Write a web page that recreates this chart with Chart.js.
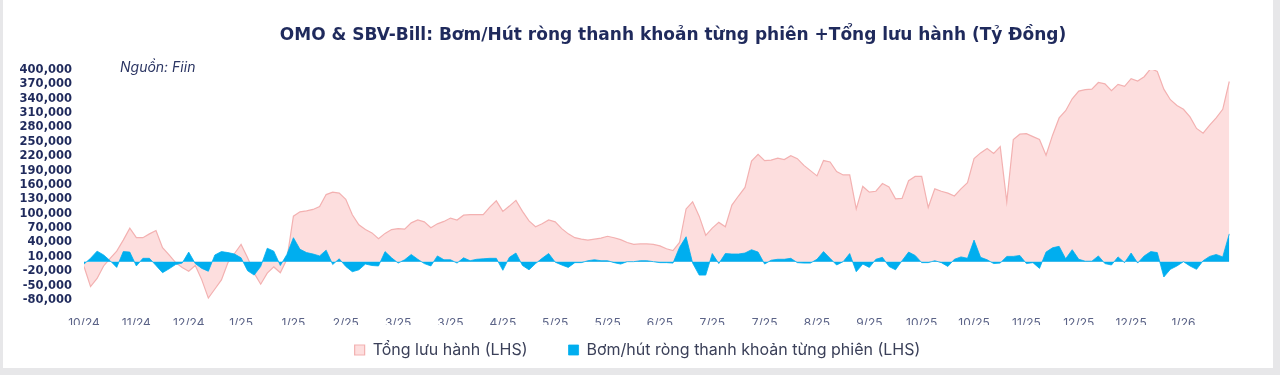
<!DOCTYPE html>
<html lang="vi">
<head>
<meta charset="utf-8">
<title>OMO &amp; SBV-Bill</title>
<script src="https://cdn.jsdelivr.net/npm/chart.js@4.4.1/dist/chart.umd.min.js"></script>
<style>
  html, body { margin: 0; padding: 0; background: #e7e7e9; }
  #card { position: absolute; left: 3px; top: 0; width: 1270px; height: 368px; background: #fff; }
</style>
</head>
<body>
<div id="card"><canvas id="omoChart"></canvas></div>
<script>
// x axis: one label every 8 sessions
const tickLabels = ['10/24', '11/24', '12/24', '1/25', '1/25', '2/25', '3/25', '3/25', '4/25', '5/25', '5/25',
    '6/25', '7/25', '7/25', '8/25', '9/25', '10/25', '10/25', '11/25', '12/25', '12/25', '1/26'];

// Tổng lưu hành (tỷ đồng)
const outstanding = [
    -10000, -52000, -35000, -9000, 7000, 22000, 45000, 70000, 50000, 50000,
    58000, 65000, 29000, 14000, -2000, -12000, -20000, -8000, -38000, -76000,
    -57000, -38000, -2000, 17000, 36000, 8000, -24000, -47000, -24000, -11000,
    -23000, 5000, 95000, 104000, 106000, 109000, 115000, 140000, 145000, 143000,
    130000, 98000, 77000, 67000, 60000, 48000, 59000, 67000, 69000, 68000,
    81000, 87000, 83000, 71000, 79000, 84000, 91000, 87000, 97000, 98000,
    98000, 98000, 114000, 127000, 105000, 116000, 128000, 105000, 85000, 73000,
    79000, 87000, 83000, 69000, 58000, 50000, 47000, 45000, 47000, 49000,
    53000, 50000, 46000, 40000, 36000, 37000, 37000, 36000, 33000, 27000,
    23000, 40000, 110000, 125000, 95000, 55000, 70000, 82000, 73000, 118000,
    137000, 155000, 210000, 224000, 211000, 212000, 216000, 213000, 221000, 215000,
    201000, 190000, 179000, 211000, 208000, 188000, 181000, 181000, 110000, 157000,
    145000, 147000, 163000, 156000, 131000, 132000, 169000, 178000, 178000, 113000,
    152000, 147000, 143000, 137000, 152000, 165000, 215000, 227000, 236000, 226000,
    240000, 125000, 255000, 266000, 267000, 261000, 255000, 222000, 264000, 300000,
    315000, 340000, 356000, 359000, 360000, 374000, 371000, 357000, 370000, 366000,
    382000, 377000, 386000, 403000, 397000, 360000, 338000, 326000, 318000, 302000,
    278000, 268000, 285000, 300000, 318000, 376000
];

// Bơm/hút ròng thanh khoản từng phiên (tỷ đồng)
const netInjection = [
    -5000, 7000, 22000, 14000, 2000, -12000, 21000, 20000, -9000, 7000,
    7000, -8000, -23000, -15000, -6000, -3000, 20000, -4000, -14000, -20000,
    14000, 21000, 19000, 16000, 8000, -19000, -28000, -10000, 28000, 22000,
    -8000, 15000, 50000, 26000, 19000, 16000, 12000, 24000, -6000, 6000,
    -10000, -21000, -17000, -5000, -8000, -9000, 21000, 8000, -3000, 4000,
    15000, 5000, -4000, -9000, 12000, 4000, 4000, -3000, 8000, 2000,
    5000, 6000, 7000, 7000, -18000, 9000, 18000, -8000, -17000, -4000,
    7000, 17000, -1000, -7000, -12000, -2000, -2000, 2000, 4000, 2000,
    2000, -2000, -5000, 0, 0, 2000, 2000, 0, -2000, -2000,
    -3000, 30000, 52000, -3000, -28000, -28000, 17000, -4000, 17000, 16000,
    16000, 18000, 25000, 20000, -5000, 3000, 5000, 5000, 7000, -2000,
    -3000, -3000, 5000, 21000, 7000, -7000, 0, 17000, -21000, -5000,
    -12000, 5000, 9000, -10000, -17000, 2000, 20000, 13000, -2000, -2000,
    2000, -2000, -10000, 5000, 10000, 7000, 45000, 9000, 4000, -4000,
    -3000, 11000, 11000, 13000, -4000, -2000, -14000, 20000, 29000, 32000,
    6000, 25000, 5000, 1000, 1000, 12000, -4000, -7000, 10000, -2000,
    18000, -3000, 12000, 21000, 19000, -32000, -16000, -9000, 0, -9000,
    -16000, 2000, 11000, 15000, 10000, 58000
];

const navy = '#1f2a5c';

// small italic source note inside the plot, top-left
const sourceNote = {
    id: 'sourceNote',
    afterDraw(chart) {
        const ctx = chart.ctx;
        ctx.save();
        ctx.font = 'italic 14px Inter';
        ctx.fillStyle = '#2b3563';
        ctx.textBaseline = 'middle';
        ctx.fillText('Nguồn: Fiin', 117, 68);
        ctx.restore();
    }
};

new Chart(document.getElementById('omoChart'), {
    type: 'line',
    data: {
        datasets: [
            {
                label: 'Tổng lưu hành (LHS)',
                data: outstanding.map((v, i) => ({ x: i, y: v })),
                order: 1,
                fill: 'origin',
                backgroundColor: '#fddede',
                borderColor: '#f3b1b1',
                borderWidth: 1.2,
                pointRadius: 0,
                tension: 0
            },
            {
                label: 'Bơm/hút ròng thanh khoản từng phiên (LHS)',
                data: netInjection.map((v, i) => ({ x: i, y: v })),
                order: 0,
                fill: 'origin',
                backgroundColor: '#00aeef',
                borderColor: '#00aeef',
                borderWidth: 0.8,
                pointRadius: 0,
                tension: 0
            }
        ]
    },
    options: {
        responsive: true,
        maintainAspectRatio: false,
        animation: false,
        devicePixelRatio: 1,
        layout: { padding: { left: 10, right: 11, top: 0, bottom: 0 } },
        plugins: {
            title: {
                display: true,
                text: 'OMO & SBV-Bill: Bơm/Hút ròng thanh khoản từng phiên +Tổng lưu hành (Tỷ Đồng)',
                fullSize: false,
                color: navy,
                font: { family: "'DejaVu Sans', sans-serif", size: 17, weight: 'bold' },
                padding: { top: 25, bottom: 24.6 }
            },
            legend: {
                position: 'bottom',
                labels: {
                    sort: (a, b) => a.datasetIndex - b.datasetIndex,
                    // widen the gap after the first item
                    generateLabels: (chart) => Chart.defaults.plugins.legend.labels.generateLabels(chart)
                        .map(item => item.datasetIndex === 0 ? { ...item, text: item.text + '\u2002\u2002\u2002' } : item),
                    boxWidth: 10,
                    boxHeight: 10,
                    padding: 17,
                    color: '#3b4059',
                    font: { family: 'Inter', size: 16 }
                }
            },
            tooltip: { enabled: false }
        },
        scales: {
            x: {
                type: 'linear',
                min: 0,
                max: 180,
                afterFit: (scale) => { scale.height = 25; },
                grid: { display: false },
                border: { display: false },
                ticks: {
                    stepSize: 8,
                    includeBounds: false,
                    autoSkip: false,
                    maxRotation: 0,
                    padding: 8,
                    color: '#5b6387',
                    font: { family: 'Inter', size: 12 },
                    callback: (v) => tickLabels[v / 8] ?? ''
                }
            },
            y: {
                min: -80000,
                max: 400000,
                z: 1,
                afterFit: (scale) => { scale.width = 71; },
                border: { display: false },
                grid: {
                    drawTicks: false,
                    color: (c) => (c.tick && c.tick.value === 0 ? '#d3d6dc' : 'rgba(0,0,0,0)')
                },
                ticks: {
                    stepSize: 30000,
                    autoSkip: false,
                    padding: 12,
                    color: navy,
                    font: { family: "'DejaVu Sans', sans-serif", size: 11.5, weight: 'bold' },
                    callback: (v) => v.toLocaleString('en-US')
                }
            }
        }
    },
    plugins: [sourceNote]
});
</script>
</body>
</html>
